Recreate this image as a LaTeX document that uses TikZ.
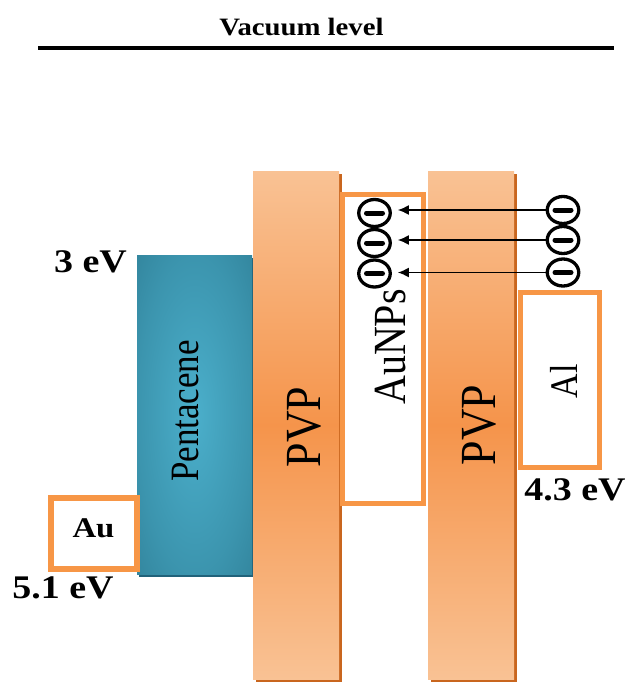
\documentclass[tikz,border=0pt]{standalone}
\usepackage{fontspec}
\setmainfont{Liberation Serif}
\usepackage{graphicx}
\usetikzlibrary{shapes.geometric,arrows.meta,calc}
\definecolor{pentdark}{HTML}{2C7A91}
\definecolor{pentlight}{HTML}{4BAFCB}
\definecolor{pentshadow}{HTML}{21627A}
\definecolor{pvplight}{HTML}{F9C294}
\definecolor{pvpmid}{HTML}{F5944B}
\definecolor{pvpshadow}{HTML}{C9661E}
\definecolor{orborder}{HTML}{F79646}
\pgfdeclareradialshading{pentshade}{\pgfpoint{0bp}{0bp}}{color(0bp)=(pentlight); color(25bp)=(pentlight!50!pentdark); color(45bp)=(pentdark); color(60bp)=(pentdark)}
\newcommand{\hs}[1]{\scalebox{1.15}[1]{#1}}
\newcommand{\vs}[1]{\scalebox{1}[1.15]{#1}}
\tikzset{
  lab/.style={inner sep=0pt, anchor=base, font=\bfseries},
  vlab/.style={inner sep=0pt, anchor=base, rotate=90},
  metalbox/.style={draw=orborder, line width=5pt, fill=white},
  pvpbar/.style={top color=pvplight, bottom color=pvplight, middle color=pvpmid},
  electron/.style={ellipse, draw=black, line width=3.3pt, minimum width=31.5pt, minimum height=27pt, inner sep=0pt, fill=white,
    path picture={\draw[line width=5pt, line cap=round] ([xshift=-8pt]path picture bounding box.center) -- ([xshift=8pt]path picture bounding box.center);}},
  flow/.style={line width=1.5pt, -{Latex[length=11pt,width=10pt]}}
}
\begin{document}
\begin{tikzpicture}[x=1pt,y=-1pt]
\useasboundingbox (0,0) rectangle (629,683);
% vacuum level
\draw[line width=4pt] (38,48) -- (614,48);
\node[lab] (vac) at (301.5,35) {\fontsize{25}{28}\selectfont\hs{Vacuum level}};
% pentacene
\fill[pentshadow] (139,258) rectangle (254,577);
\shade[shading=pentshade] (137,255) rectangle (252,574);
% PVP bars
\fill[pvpshadow] (256,174) rectangle (342,682);
\shade[pvpbar] (253,171) rectangle (339,679);
\fill[pvpshadow] (431,174) rectangle (517,682);
\shade[pvpbar] (428,171) rectangle (514,679);
% metal / NP boxes
\draw[metalbox] (342.5,194.5) rectangle (423.5,503.5);
\draw[metalbox] (520.5,292.5) rectangle (599.5,467.5);
\draw[metalbox, line width=6pt] (51,498) rectangle (137,569);
% texts
\node[lab] (e3) at (90.5,272) {\fontsize{33}{36}\selectfont\hs{3 eV}};
\node[lab] (e51) at (63,598) {\fontsize{33}{36}\selectfont\hs{5.1 eV}};
\node[lab] (e43) at (575,500) {\fontsize{33}{36}\selectfont\hs{4.3 eV}};
\node[lab] (au) at (93.5,537) {\fontsize{28.5}{30}\selectfont\hs{Au}};
\node[vlab] (pent) at (198,411) {\fontsize{35}{38}\selectfont\vs{Pentacene}};
\node[vlab] (pvp1) at (320,427) {\fontsize{44}{48}\selectfont\vs{PVP}};
\node[vlab] (pvp2) at (495,425) {\fontsize{44}{48}\selectfont\vs{PVP}};
\node[vlab] (aunps) at (405,347) {\fontsize{40}{44}\selectfont\vs{AuNPs}};
\node[vlab] (al) at (577,381) {\fontsize{34}{38}\selectfont\vs{Al}};
% electrons
\node[electron] (l1) at (374.5,213) {};
\node[electron] (l2) at (374.5,243) {};
\node[electron] (l3) at (374.5,273.5) {};
\node[electron] (r1) at (563,210) {};
\node[electron] (r2) at (563,240) {};
\node[electron] (r3) at (563,272.5) {};
\draw[flow, shorten >=6pt] (r1) -- (r1 -| l1.east);
\draw[flow, shorten >=6pt] (r2) -- (r2 -| l2.east);
\draw[flow, shorten >=6pt] (r3) -- (r3 -| l3.east);
\end{tikzpicture}
\end{document}
